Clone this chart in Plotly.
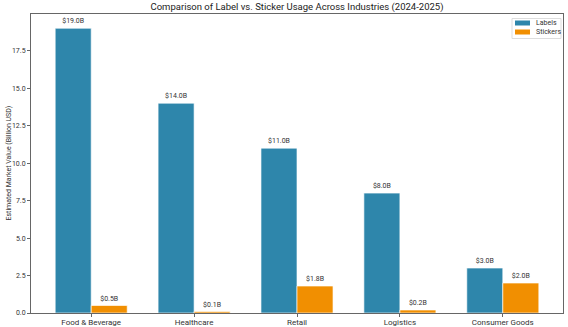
import plotly.graph_objects as go

categories = ["Food & Beverage", "Healthcare", "Retail", "Logistics", "Consumer Goods"]
labels_values = [19.0, 14.0, 11.0, 8.0, 3.0]
stickers_values = [0.5, 0.1, 1.8, 0.2, 2.0]
ytick_vals = [0, 2.5, 5, 7.5, 10, 12.5, 15, 17.5]
series_names = ["Labels", "Stickers"]
series_colors = ["#2E86AB", "#F18F01"]

W, H = 568, 327
ML, MR, MT, MB = 31, 5, 14, 14
PW, PH = W - ML - MR, H - MT - MB

def px(x):
    return (x - ML) / PW

def py(y):
    return (H - MB - y) / PH

bar_w = 0.35
idx = list(range(len(categories)))
FONT = "Roboto, Inter, DejaVu Sans, sans-serif"

fig = go.Figure()
for k, (vals, off) in enumerate([(labels_values, -bar_w / 2), (stickers_values, bar_w / 2)]):
    fig.add_trace(go.Bar(
        x=[i + off for i in idx], y=vals, width=bar_w, name=series_names[k],
        marker=dict(color=series_colors[k], line=dict(color="rgba(255,255,255,0.8)", width=0.8)),
        text=[f"${v:.1f}B" for v in vals], textposition="outside",
        textfont=dict(size=7, color="#333333"), cliponaxis=False, showlegend=False,
    ))

shapes = [dict(type="rect", xref="paper", yref="paper",
               x0=px(512), x1=px(561), y0=py(38.5), y1=py(18.5),
               line=dict(color="#dddddd", width=1), fillcolor="rgba(255,255,255,0.8)")]
annotations = []
for k, name in enumerate(series_names):
    cy = 23 + 9 * k
    shapes.append(dict(type="rect", xref="paper", yref="paper",
                       x0=px(515), x1=px(530), y0=py(cy + 2.5), y1=py(cy - 2.5),
                       line=dict(width=0), fillcolor=series_colors[k]))
    annotations.append(dict(text=name, xref="paper", yref="paper", x=px(534), y=py(cy),
                            xanchor="left", yanchor="middle", showarrow=False,
                            font=dict(size=7, color="#333333")))
annotations.append(dict(text="Estimated Market Value (Billion USD)", xref="paper", yref="paper",
                        x=px(8), y=0.5, xanchor="center", yanchor="middle", textangle=-90,
                        showarrow=False, font=dict(size=7, color="#333333")))

fig.update_layout(
    width=W, height=H,
    margin=dict(l=ML, r=MR, t=MT, b=MB, autoexpand=False),
    paper_bgcolor="white", plot_bgcolor="white",
    barmode="overlay",
    font=dict(family=FONT, size=8, color="#333333"),
    title=dict(text="Comparison of Label vs. Sticker Usage Across Industries (2024-2025)",
               x=px(297), xref="paper", xanchor="center", y=1 - 7 / H, yanchor="middle",
               font=dict(size=9.5, color="#222222")),
    showlegend=False,
    shapes=shapes, annotations=annotations,
)
fig.update_xaxes(
    range=[-0.585, 4.585], tickmode="array", tickvals=idx, ticktext=categories,
    showgrid=False, zeroline=False, showline=True, linecolor="#666666", linewidth=1,
    mirror=True, ticks="outside", ticklen=3, tickcolor="#666666", automargin=False,
    ticklabelstandoff=-2,
    tickfont=dict(size=8, color="#333333"),
)
fig.update_yaxes(
    range=[0, 19.95], tickmode="array", tickvals=ytick_vals,
    ticktext=[f"{v:.1f}" for v in ytick_vals],
    showgrid=False, zeroline=False, showline=True, linecolor="#666666", linewidth=1,
    mirror=True, ticks="outside", ticklen=3, tickcolor="#666666", automargin=False,
    tickfont=dict(size=7, color="#333333"),
)

fig.write_html("out.html")
